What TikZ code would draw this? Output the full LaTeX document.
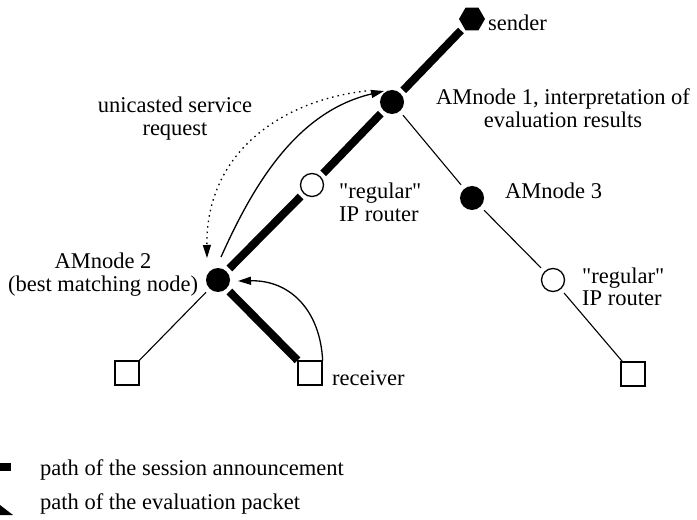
\documentclass[tikz,border=0pt]{standalone}
\usepackage{fontspec}
\setmainfont{Liberation Serif}
\usetikzlibrary{arrows.meta,shapes.geometric,calc}
\begin{document}
\begin{tikzpicture}[x=1bp,y=-1bp,
  lbl/.style={inner sep=0pt,font=\fontsize{22.5bp}{22.5bp}\selectfont},
  amnode/.style={circle,fill=black,minimum size=24bp,inner sep=0pt},
  router/.style={circle,draw=black,line width=1.3bp,fill=white,minimum size=23bp,inner sep=0pt},
  host/.style={rectangle,draw=black,line width=1.3bp,fill=white,minimum size=24bp,inner sep=0pt},
  hex/.style={regular polygon,regular polygon sides=6,fill=black,minimum size=26bp,inner sep=0pt},
  thickpath/.style={line width=8bp,shorten >=4bp,shorten <=4bp},
  thinpath/.style={line width=1.1bp,shorten >=5bp,shorten <=5bp},
  arr/.style={line width=1.3bp,-{Triangle[length=13bp,width=8bp]}},
]
\useasboundingbox (0,0) rectangle (697,520);
% network nodes
\node[hex] (snd) at (472,19) {};
\node[amnode] (am1) at (392,102) {};
\node[router] (r1) at (312,185) {};
\node[amnode] (am2) at (218,280) {};
\node[amnode] (am3) at (472,198) {};
\node[router] (r2) at (553,280) {};
\node[host] (h1) at (127,373) {};
\node[host] (rcv) at (310,373) {};
\node[host] (h3) at (633,374) {};
% links
\draw[thickpath] (snd) -- (am1);
\draw[thickpath] (am1) -- (r1);
\draw[thickpath] (r1) -- (am2);
\draw[thickpath,shorten >=0pt] (am2) -- (rcv);
\draw[thinpath] (am1) -- (am3);
\draw[thinpath] (am3) -- (r2);
\draw[thinpath,shorten >=0pt] (r2) -- (h3);
\draw[thinpath,shorten >=0pt] (am2) -- (h1);
% arrows
\draw[arr] ($(am2)+(3,-23)$) .. controls (252,188) and (295,112) .. ($(am1)+(-8,-11)$);
\draw[arr,dash pattern=on 1.5bp off 4bp] ($(am1)+(-26,-11)$) .. controls (285,100) and (206,150) .. ($(am2)+(-11,-22)$);
\draw[arr] (rcv.north east) .. controls (320,310) and (290,280) .. ($(am2)+(20,1)$);
% labels
\node[lbl,anchor=base west] (tsnd) at (488,31) {sender};
\node[lbl,anchor=base] (tam1) at (563,105) {\begin{tabular}[t]{@{}c@{}}AMnode 1, interpretation of\\evaluation results\end{tabular}};
\node[lbl,anchor=base west] (tam3) at (505,199) {AMnode 3};
\node[lbl,anchor=base west] (tr1) at (339,199) {\begin{tabular}[t]{@{}l@{}}\textquotedbl regular\textquotedbl\\IP router\end{tabular}};
\node[lbl,anchor=base west] (tr2) at (582,283) {\begin{tabular}[t]{@{}l@{}}\textquotedbl regular\textquotedbl\\IP router\end{tabular}};
\node[lbl,anchor=base] (tam2) at (103,269) {\begin{tabular}[t]{@{}c@{}}AMnode 2\\(best matching node)\end{tabular}};
\node[lbl,anchor=base west] (trcv) at (332,385) {receiver};
\node[lbl,anchor=base] (tuni) at (175,113) {\begin{tabular}[t]{@{}c@{}}unicasted service\\request\end{tabular}};
% legend
\fill (0,463) rectangle (11,471);
\fill (0,505) -- (13,515) -- (0,515) -- cycle;
\node[lbl,anchor=base west] (leg1) at (40,475) {path of the session announcement};
\node[lbl,anchor=base west] (leg2) at (40,509) {path of the evaluation packet};
\end{tikzpicture}
\end{document}
